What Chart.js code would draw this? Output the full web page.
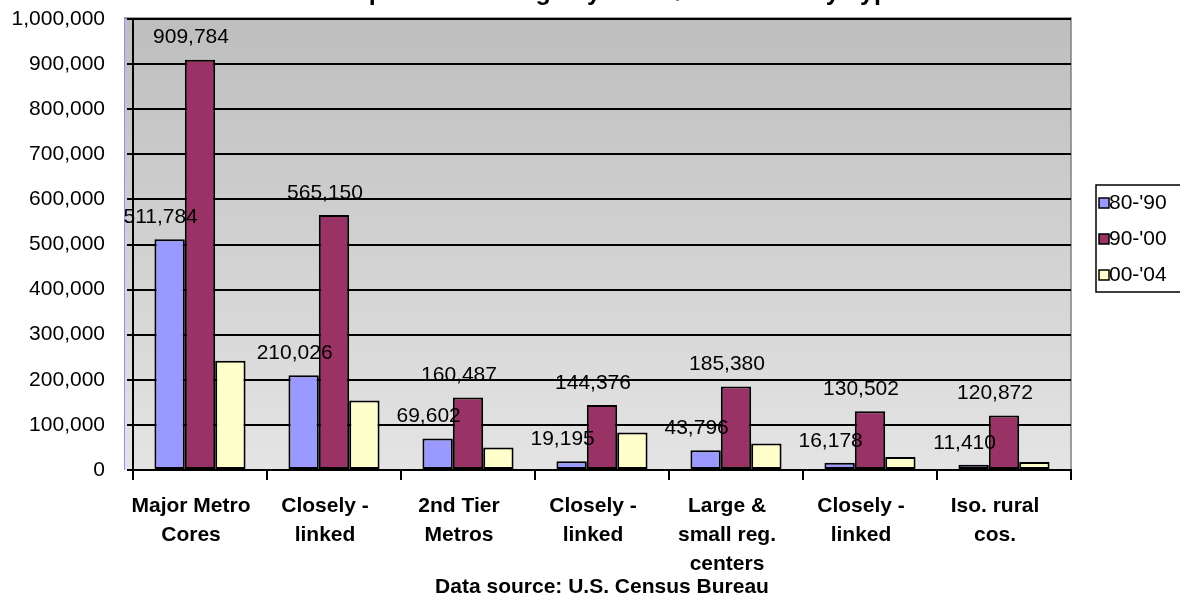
<!DOCTYPE html>
<html>
<head>
<meta charset="utf-8">
<script src="https://cdn.jsdelivr.net/npm/chart.js@4.4.1/dist/chart.umd.min.js"></script>
<style>
  html, body { margin: 0; padding: 0; background: #fff; }
  #wrap { width: 1180px; height: 600px; position: relative; }
</style>
</head>
<body>
<div id="wrap"><canvas id="chart" width="1180" height="600"></canvas></div>
<script>
const categories = [
  ["Major Metro", "Cores"],
  ["Closely -", "linked"],
  ["2nd Tier", "Metros"],
  ["Closely -", "linked"],
  ["Large &", "small reg.", "centers"],
  ["Closely -", "linked"],
  ["Iso. rural", "cos."],
];
const seriesNames = ["80-'90", "90-'00", "00-'04"];
const change8090 = [511784, 210026, 69602, 19195, 43796, 16178, 11410];
const change9000 = [909784, 565150, 160487, 144376, 185380, 130502, 120872];
const change0004 = [242000, 154000, 50000, 83000, 59000, 29000, 18000];
const yTicks = [0, 100000, 200000, 300000, 400000, 500000, 600000, 700000, 800000, 900000, 1000000];
const seriesColors = ["#9999ff", "#993366", "#ffffcc"];
const labelledSeries = [0, 1]; // the 00-'04 bars carry no value labels

const FONT = "'Liberation Sans', Arial, sans-serif";
const fmt = (v) => v.toLocaleString("en-US");

// gray gradient plot panel behind the grid
const panelBackground = {
  id: "panelBackground",
  beforeDraw(chart) {
    const { ctx, chartArea: a } = chart;
    ctx.save();
    ctx.fillStyle = "#fff";
    ctx.fillRect(0, 0, chart.width, chart.height);
    const left = a.left - 9;
    const grad = ctx.createLinearGradient(0, a.top, 0, a.bottom);
    grad.addColorStop(0, "#bebebe");
    grad.addColorStop(1, "#e4e4e4");
    ctx.fillStyle = grad;
    ctx.fillRect(left, a.top - 1, a.right - left, a.bottom - a.top + 1);
    ctx.strokeStyle = "#808080";
    ctx.lineWidth = 1.5;
    ctx.beginPath();
    ctx.moveTo(left, a.top - 1);
    ctx.lineTo(a.right, a.top - 1);
    ctx.lineTo(a.right, a.bottom);
    ctx.stroke();
    ctx.strokeStyle = "#8c8cff";
    ctx.lineWidth = 1;
    ctx.beginPath();
    ctx.moveTo(left + 0.5, a.top - 1);
    ctx.lineTo(left + 0.5, a.bottom);
    ctx.stroke();
    ctx.restore();
  },
};

// value labels above the first two series
const valueLabels = {
  id: "valueLabels",
  afterDatasetsDraw(chart) {
    const { ctx } = chart;
    ctx.save();
    ctx.font = "21px " + FONT;
    ctx.fillStyle = "#000";
    ctx.textAlign = "center";
    ctx.textBaseline = "middle";
    labelledSeries.forEach((di) => {
      const meta = chart.getDatasetMeta(di);
      meta.data.forEach((bar, i) => {
        const v = chart.data.datasets[di].data[i];
        ctx.fillText(fmt(v), bar.x - 9, bar.y - 22);
      });
    });
    ctx.restore();
  },
};

// title sits mostly above the canvas edge
const topTitle = {
  id: "topTitle",
  afterDraw(chart) {
    const { ctx, chartArea: a } = chart;
    ctx.save();
    ctx.font = "bold 25px " + FONT;
    ctx.fillStyle = "#000";
    ctx.textAlign = "center";
    ctx.textBaseline = "alphabetic";
    ctx.fillText("Population Change by Metro/Rural County Type", (a.left + a.right) / 2 + 18, 0);
    ctx.restore();
  },
};

// boxed legend on the right
const boxLegend = {
  id: "boxLegend",
  afterDraw(chart) {
    const { ctx } = chart;
    const x = 1096, y = 185, w = 100, h = 107;
    ctx.save();
    ctx.fillStyle = "#fff";
    ctx.fillRect(x, y, w, h);
    ctx.strokeStyle = "#000";
    ctx.lineWidth = 1.5;
    ctx.strokeRect(x, y, w, h);
    ctx.font = "21px " + FONT;
    ctx.textAlign = "left";
    ctx.textBaseline = "middle";
    seriesNames.forEach((name, i) => {
      const cy = 203 + i * 36;
      ctx.fillStyle = seriesColors[i];
      ctx.fillRect(1099, cy - 5, 10, 10);
      ctx.lineWidth = 1.5;
      ctx.strokeRect(1099, cy - 5, 10, 10);
      ctx.fillStyle = "#000";
      ctx.fillText(name, 1109, cy);
    });
    ctx.restore();
  },
};

const datasets = [change8090, change9000, change0004].map((values, i) => ({
  label: seriesNames[i],
  data: values,
  backgroundColor: seriesColors[i],
  borderColor: "#000",
  borderWidth: 2,
  borderSkipped: false,
  categoryPercentage: 0.68,
  barPercentage: 1.0,
}));

new Chart(document.getElementById("chart"), {
  type: "bar",
  data: { labels: categories, datasets: datasets },
  options: {
    responsive: false,
    animation: false,
    layout: { padding: { top: 19, right: 109, bottom: 0, left: 0 } },
    plugins: {
      legend: { display: false },
      tooltip: { enabled: false },
      title: { display: false },
    },
    scales: {
      x: {
        offset: true,
        grid: {
          offset: true,
          drawOnChartArea: false,
          drawTicks: true,
          tickLength: 10,
          color: "#000",
          lineWidth: 2,
        },
        border: { display: true, color: "#000", width: 2 },
        ticks: {
          color: "#000",
          font: { family: FONT, size: 21, weight: "bold", lineHeight: 1.38 },
          padding: 12,
          labelOffset: -9,
          maxRotation: 0,
          autoSkip: false,
        },
        title: {
          display: true,
          text: "Data source: U.S. Census Bureau",
          color: "#000",
          font: { family: FONT, size: 21, weight: "bold" },
          padding: { top: 0, bottom: 0 },
        },
        afterFit(scale) {
          scale.height = 130;
          scale.paddingLeft = 0;
          scale.paddingRight = 0;
        },
      },
      y: {
        min: 0,
        max: 1000000,
        afterBuildTicks(scale) { scale.ticks = yTicks.map((v) => ({ value: v })); },
        grid: {
          color: "#000",
          lineWidth: 2,
          drawTicks: true,
          tickLength: 6,
        },
        border: { display: true, color: "#000", width: 2 },
        ticks: {
          color: "#000",
          font: { family: FONT, size: 21 },
          padding: 22,
          callback: (v) => fmt(v),
        },
        afterFit(scale) {
          scale.width = 133;
          scale.paddingTop = 0;
          scale.paddingBottom = 0;
        },
      },
    },
  },
  plugins: [panelBackground, valueLabels, topTitle, boxLegend],
});
</script>
</body>
</html>
